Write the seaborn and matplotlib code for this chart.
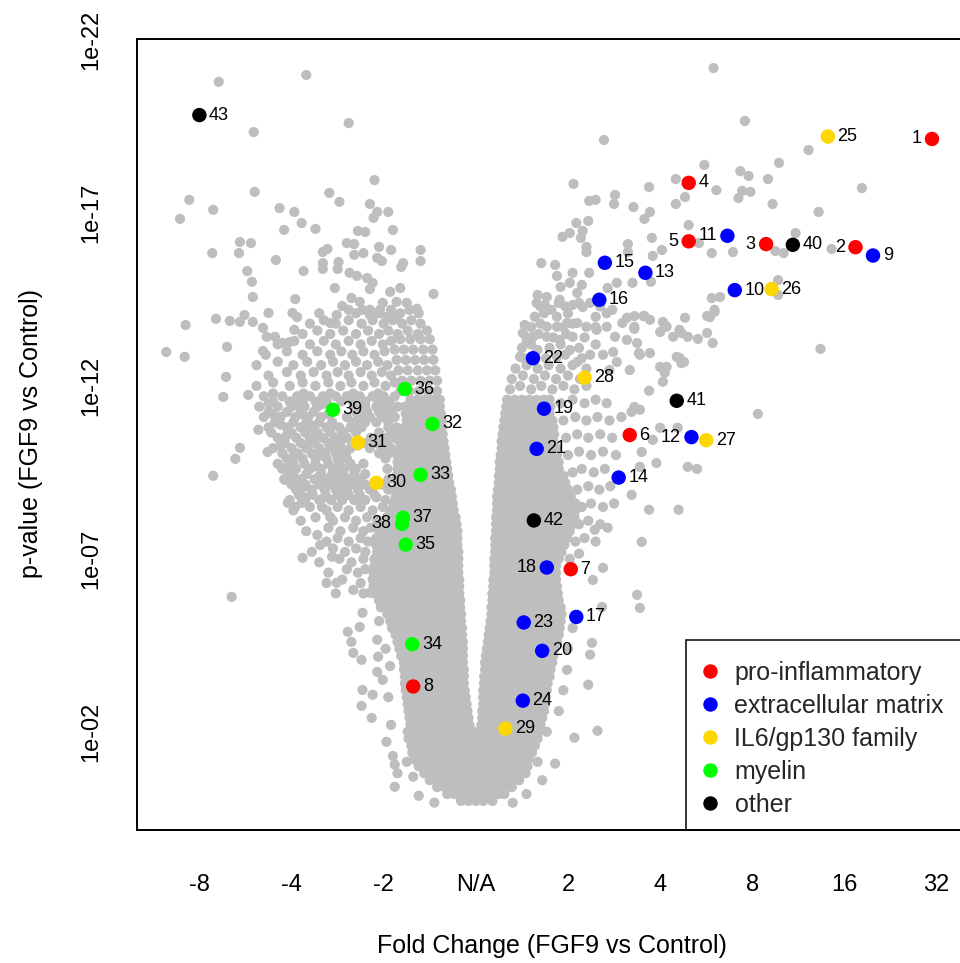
import matplotlib
matplotlib.use("Agg")
import matplotlib.pyplot as plt
import seaborn as sns
import pandas as pd
from matplotlib.lines import Line2D
from matplotlib.patches import Rectangle

# ---------------- axis ticks ----------------
x_ticks = [-3, -2, -1, 0, 1, 2, 3, 4, 5]
x_tick_labels = ["-8", "-4", "-2", "N/A", "2", "4", "8", "16", "32"]
y_ticks = [2, 7, 12, 17, 22]
y_tick_labels = ["1e-02", "1e-07", "1e-12", "1e-17", "1e-22"]

# ---------------- highlighted genes ----------------
groups = ["pro-inflammatory", "extracellular matrix", "IL6/gp130 family", "myelin", "other"]
group_colors = ["#FF0000", "#0000FF", "#FFD700", "#00FF00", "#000000"]

gene_id = list(range(1, 44))
gene_fc = [4.95, 4.12, 3.15, 2.31, 2.31, 1.67, 1.03, -0.68,
           4.31, 2.81, 2.73, 2.34, 1.84, 1.55, 1.40, 1.34, 1.09, 0.77, 0.74, 0.72,
           0.66, 0.62, 0.52, 0.51,
           3.82, 3.21, 2.50, 1.18, 0.32, -1.08, -1.28,
           -0.47, -0.60, -0.69, -0.76, -0.77, -0.79, -0.80, -1.55,
           3.44, 2.18, 0.63, -3.00]
gene_p = [19.14, 16.01, 16.10, 17.87, 16.18, 10.58, 6.70, 3.31,
          15.77, 14.77, 16.34, 10.52, 15.27, 9.35, 15.56, 14.49, 5.32, 6.75, 11.34, 4.34,
          10.18, 12.80, 5.16, 2.90,
          19.21, 14.80, 10.43, 12.24, 2.09, 9.20, 10.36,
          10.90, 9.43, 4.53, 7.41, 11.91, 8.19, 8.01, 11.31,
          16.08, 11.57, 8.11, 19.83]
gene_group = [0] * 8 + [1] * 16 + [2] * 7 + [3] * 8 + [4] * 4
label_left = [1, 2, 3, 5, 11, 12, 18, 38]

# ---------------- background genes (grey cloud) ----------------
# dense core, read row by row (-log10 p, list of signed log2 fold changes)
core_rows = [
    (0.0, [-0.16, -0.08, 0.00, 0.08, 0.18]),
    (0.2, [-0.31, -0.23, -0.15, -0.07, 0.01, 0.09, 0.17, 0.25, 0.31]),
    (0.4, [-0.42, -0.34, -0.26, -0.18, -0.10, -0.02, 0.06, 0.14, 0.22, 0.30, 0.39]),
    (0.6, [-0.50, -0.42, -0.34, -0.26, -0.18, -0.10, -0.02, 0.06, 0.14, 0.22, 0.30, 0.38, 0.47]),
    (0.8, [-0.56, -0.48, -0.40, -0.32, -0.24, -0.16, -0.08, 0.00, 0.08, 0.16, 0.24, 0.32, 0.40, 0.48, 0.54]),
    (1.0, [-0.62, -0.54, -0.46, -0.38, -0.30, -0.22, -0.14, -0.06, 0.02, 0.10, 0.18, 0.26, 0.34, 0.42, 0.50, 0.56]),
    (1.2, [-0.67, -0.59, -0.51, -0.43, -0.35, -0.27, -0.19, -0.11, -0.03, 0.05, 0.13, 0.21, 0.29, 0.37, 0.45, 0.52, 0.57]),
    (1.4, [-0.69, -0.61, -0.53, -0.45, -0.37, -0.29, -0.21, -0.13, -0.05, 0.03, 0.11, 0.19, 0.27, 0.35, 0.43, 0.52, 0.61]),
    (1.6, [-0.70, -0.62, -0.54, -0.46, -0.38, -0.30, -0.22, -0.14, -0.06, 0.02, 0.10, 0.18, 0.26, 0.34, 0.42, 0.50, 0.58, 0.64]),
    (1.8, [-0.73, -0.65, -0.57, -0.49, -0.41, -0.33, -0.25, -0.17, -0.09, -0.01, 0.07, 0.15, 0.23, 0.31, 0.39, 0.47, 0.55, 0.62, 0.67]),
    (2.0, [-0.74, -0.66, -0.58, -0.50, -0.42, -0.34, -0.26, -0.18, -0.10, -0.02, 0.06, 0.14, 0.22, 0.30, 0.38, 0.46, 0.54, 0.62, 0.68]),
    (2.2, [-0.71, -0.63, -0.55, -0.47, -0.39, -0.31, -0.23, -0.15, -0.07, 0.06, 0.14, 0.22, 0.30, 0.38, 0.46, 0.54, 0.62, 0.70]),
    (2.4, [-0.72, -0.64, -0.56, -0.48, -0.40, -0.32, -0.24, -0.16, -0.08, 0.07, 0.15, 0.23, 0.31, 0.39, 0.47, 0.55, 0.63, 0.72]),
    (2.6, [-0.73, -0.65, -0.57, -0.49, -0.41, -0.33, -0.25, -0.17, -0.09, 0.07, 0.15, 0.23, 0.31, 0.39, 0.47, 0.55, 0.63, 0.71, 0.74]),
    (2.8, [-0.74, -0.66, -0.58, -0.50, -0.42, -0.34, -0.26, -0.18, -0.10, 0.08, 0.16, 0.24, 0.32, 0.40, 0.48, 0.56, 0.64, 0.72, 0.75]),
    (3.0, [-0.75, -0.67, -0.59, -0.51, -0.43, -0.35, -0.27, -0.19, -0.11, 0.08, 0.16, 0.24, 0.32, 0.40, 0.48, 0.56, 0.64, 0.72, 0.76]),
    (3.2, [-0.76, -0.68, -0.60, -0.52, -0.44, -0.36, -0.28, -0.20, -0.12, 0.08, 0.16, 0.24, 0.32, 0.40, 0.48, 0.56, 0.64, 0.72, 0.77]),
    (3.4, [-0.77, -0.69, -0.61, -0.53, -0.45, -0.37, -0.29, -0.21, -0.13, 0.09, 0.17, 0.25, 0.33, 0.41, 0.49, 0.57, 0.65, 0.73, 0.78]),
    (3.6, [-0.77, -0.69, -0.61, -0.53, -0.45, -0.37, -0.29, -0.21, -0.13, 0.09, 0.17, 0.25, 0.33, 0.41, 0.49, 0.57, 0.65, 0.73, 0.80]),
    (3.8, [-0.78, -0.69, -0.61, -0.53, -0.45, -0.37, -0.29, -0.21, -0.13, 0.10, 0.18, 0.26, 0.34, 0.42, 0.50, 0.58, 0.66, 0.74, 0.81]),
    (4.0, [-0.78, -0.70, -0.62, -0.54, -0.46, -0.38, -0.30, -0.22, -0.14, 0.10, 0.18, 0.26, 0.34, 0.42, 0.50, 0.58, 0.66, 0.74, 0.83]),
    (4.2, [-0.81, -0.78, -0.70, -0.62, -0.54, -0.46, -0.38, -0.30, -0.22, -0.14, 0.11, 0.19, 0.27, 0.35, 0.43, 0.51, 0.59, 0.67, 0.75, 0.84]),
    (4.4, [-0.83, -0.78, -0.70, -0.62, -0.54, -0.46, -0.38, -0.30, -0.22, -0.14, 0.12, 0.20, 0.28, 0.36, 0.44, 0.52, 0.60, 0.68, 0.76, 0.85]),
    (4.6, [-0.85, -0.78, -0.70, -0.62, -0.54, -0.46, -0.38, -0.30, -0.22, -0.14, 0.13, 0.21, 0.29, 0.37, 0.45, 0.53, 0.61, 0.69, 0.77, 0.85, 0.88]),
    (4.8, [-0.87, -0.79, -0.71, -0.63, -0.55, -0.47, -0.39, -0.31, -0.23, -0.15, 0.14, 0.22, 0.30, 0.38, 0.46, 0.54, 0.62, 0.70, 0.78, 0.86, 0.90]),
    (5.0, [-0.91, -0.87, -0.79, -0.71, -0.63, -0.55, -0.47, -0.39, -0.31, -0.23, -0.15, 0.15, 0.23, 0.31, 0.39, 0.47, 0.55, 0.63, 0.71, 0.79, 0.87, 0.91]),
    (5.2, [-0.93, -0.88, -0.80, -0.72, -0.64, -0.56, -0.48, -0.40, -0.32, -0.24, -0.16, 0.16, 0.24, 0.32, 0.40, 0.48, 0.56, 0.64, 0.72, 0.80, 0.88, 0.92]),
    (5.4, [-0.96, -0.88, -0.80, -0.72, -0.64, -0.56, -0.48, -0.40, -0.32, -0.24, -0.16, 0.17, 0.25, 0.33, 0.41, 0.49, 0.57, 0.65, 0.73, 0.81, 0.89, 0.93]),
    (5.6, [-1.03, -0.97, -0.89, -0.81, -0.73, -0.65, -0.57, -0.49, -0.41, -0.33, -0.25, -0.17, 0.17, 0.25, 0.33, 0.41, 0.49, 0.57, 0.65, 0.73, 0.81, 0.89, 0.92]),
    (5.8, [-1.05, -0.97, -0.89, -0.81, -0.73, -0.65, -0.57, -0.49, -0.41, -0.33, -0.25, -0.17, 0.18, 0.26, 0.34, 0.42, 0.50, 0.58, 0.66, 0.74, 0.82, 0.90]),
    (6.0, [-1.10, -1.06, -0.98, -0.90, -0.82, -0.74, -0.66, -0.58, -0.50, -0.42, -0.34, -0.26, -0.18, 0.18, 0.26, 0.34, 0.42, 0.50, 0.58, 0.66, 0.74, 0.82, 0.89]),
    (6.2, [-1.11, -1.06, -0.98, -0.90, -0.82, -0.74, -0.66, -0.58, -0.50, -0.42, -0.34, -0.26, -0.18, 0.19, 0.27, 0.35, 0.43, 0.51, 0.59, 0.67, 0.75, 0.83, 0.88]),
    (6.4, [-1.12, -1.06, -0.98, -0.90, -0.82, -0.74, -0.66, -0.58, -0.50, -0.42, -0.34, -0.26, -0.18, 0.19, 0.27, 0.35, 0.43, 0.51, 0.59, 0.67, 0.75, 0.83, 0.87]),
    (6.6, [-1.11, -1.07, -0.99, -0.91, -0.83, -0.75, -0.67, -0.59, -0.51, -0.43, -0.35, -0.27, -0.19, 0.20, 0.28, 0.36, 0.44, 0.52, 0.60, 0.68, 0.76, 0.84, 0.87]),
    (6.8, [-1.10, -1.07, -0.99, -0.91, -0.83, -0.75, -0.67, -0.59, -0.51, -0.43, -0.35, -0.27, -0.19, 0.20, 0.28, 0.36, 0.44, 0.52, 0.60, 0.68, 0.76, 0.84, 0.87]),
    (7.0, [-1.10, -1.07, -0.99, -0.91, -0.83, -0.75, -0.67, -0.59, -0.51, -0.43, -0.35, -0.27, -0.19, 0.20, 0.28, 0.36, 0.44, 0.52, 0.60, 0.68, 0.76, 0.84, 0.90]),
    (7.2, [-1.07, -0.99, -0.91, -0.83, -0.75, -0.67, -0.59, -0.51, -0.43, -0.35, -0.27, -0.19, 0.21, 0.29, 0.37, 0.45, 0.53, 0.61, 0.69, 0.77, 0.85, 0.93]),
    (7.4, [-1.08, -1.00, -0.92, -0.84, -0.76, -0.68, -0.60, -0.52, -0.44, -0.36, -0.28, -0.20, 0.21, 0.29, 0.37, 0.45, 0.53, 0.61, 0.69, 0.77, 0.85, 0.93, 0.96]),
    (7.6, [-1.08, -1.00, -0.92, -0.84, -0.76, -0.68, -0.60, -0.52, -0.44, -0.36, -0.28, -0.20, 0.21, 0.29, 0.37, 0.45, 0.53, 0.61, 0.69, 0.77, 0.85, 0.93, 0.99]),
    (7.8, [-1.05, -1.00, -0.92, -0.84, -0.76, -0.68, -0.60, -0.52, -0.44, -0.36, -0.28, -0.20, 0.22, 0.30, 0.38, 0.46, 0.54, 0.62, 0.70, 0.78, 0.86, 0.94, 1.02]),
    (8.0, [-1.00, -0.93, -0.85, -0.77, -0.69, -0.61, -0.53, -0.45, -0.37, -0.29, -0.21, 0.22, 0.30, 0.38, 0.46, 0.54, 0.62, 0.70, 0.78, 0.86, 0.94, 1.02, 1.05]),
    (8.2, [-0.97, -0.94, -0.86, -0.78, -0.70, -0.62, -0.54, -0.46, -0.38, -0.30, -0.22, 0.22, 0.30, 0.38, 0.46, 0.54, 0.62, 0.70, 0.78, 0.86, 0.94, 1.02, 1.07]),
    (8.4, [-0.93, -0.88, -0.80, -0.72, -0.64, -0.56, -0.48, -0.40, -0.32, -0.24, 0.23, 0.31, 0.39, 0.47, 0.55, 0.63, 0.71, 0.79, 0.87, 0.95, 1.03, 1.08]),
    (8.6, [-0.89, -0.81, -0.73, -0.65, -0.57, -0.49, -0.41, -0.33, -0.25, 0.23, 0.31, 0.39, 0.47, 0.55, 0.63, 0.71, 0.79, 0.87, 0.95, 1.03, 1.08]),
    (8.8, [-0.87, -0.82, -0.74, -0.66, -0.58, -0.50, -0.42, -0.34, -0.26, 0.23, 0.31, 0.39, 0.47, 0.55, 0.63, 0.71, 0.79, 0.87, 0.95, 1.03]),
    (9.0, [-0.87, -0.83, -0.75, -0.67, -0.59, -0.51, -0.43, -0.35, -0.27, 0.24, 0.32, 0.40, 0.48, 0.56, 0.64, 0.72, 0.80, 0.88, 0.96, 1.00]),
    (9.2, [-0.85, -0.77, -0.69, -0.61, -0.53, -0.45, -0.37, -0.29, 0.25, 0.33, 0.41, 0.49, 0.57, 0.65, 0.73, 0.81, 0.89, 0.97]),
    (9.4, [-0.86, -0.78, -0.70, -0.62, -0.54, -0.46, -0.38, -0.30, 0.25, 0.33, 0.41, 0.49, 0.57, 0.65, 0.73, 0.81, 0.89, 0.95]),
    (9.6, [-0.85, -0.79, -0.71, -0.63, -0.55, -0.47, -0.39, -0.31, 0.26, 0.34, 0.42, 0.50, 0.58, 0.66, 0.74, 0.82, 0.90]),
    (9.8, [-0.85, -0.80, -0.72, -0.64, -0.56, -0.48, -0.40, -0.32, 0.26, 0.34, 0.42, 0.50, 0.58, 0.66, 0.74, 0.82, 0.90]),
    (10.0, [-0.85, -0.81, -0.73, -0.65, -0.57, -0.49, -0.41, -0.33, 0.27, 0.35, 0.43, 0.51, 0.59, 0.67, 0.75, 0.83, 0.88]),
    (10.2, [-0.82, -0.74, -0.66, -0.58, -0.50, -0.42, -0.34, 0.28, 0.36, 0.44, 0.52, 0.60, 0.68, 0.76, 0.84, 0.87]),
    (10.4, [-0.83, -0.75, -0.67, -0.59, -0.51, -0.43, -0.35, 0.28, 0.36, 0.44, 0.52, 0.60, 0.68, 0.76, 0.84]),
    (10.6, [-0.81, -0.76, -0.68, -0.60, -0.52, -0.44, -0.36, 0.29, 0.37, 0.45, 0.53, 0.61, 0.69, 0.77, 0.85]),
    (10.8, [-0.77, -0.69, -0.61, -0.53, -0.45, -0.37, 0.30, 0.38, 0.46, 0.54, 0.62, 0.70, 0.78, 0.84]),
    (11.0, [-0.75, -0.69, -0.61, -0.53, -0.45, -0.37, 0.31, 0.39, 0.47, 0.55, 0.63, 0.71, 0.79, 0.83]),
    (11.2, [-0.76, -0.70, -0.62, -0.54, -0.46, -0.38, 0.32, 0.40, 0.48, 0.56, 0.64, 0.72, 0.80]),
    (11.4, [-0.77, -0.71, -0.63, -0.55, -0.47, -0.39, 0.33, 0.41, 0.49, 0.57, 0.65, 0.73, 0.81]),
    (11.6, [-0.71, -0.63, -0.55, -0.47, -0.39, 0.34, 0.42, 0.50, 0.58, 0.66, 0.74, 0.80]),
]

# looser parts of the two arms
semi_rows = [
    (6.0, [-1.52, -1.22]), (6.1, [-1.33]),
    (6.3, [-1.62, -1.25]), (6.4, [-1.45]),
    (6.6, [-1.60, -1.28]), (6.7, [-1.40, -1.20]),
    (6.9, [-1.70, -1.35]), (7.0, [-1.48, -1.22]),
    (7.2, [-1.78, -1.42, -1.20]), (7.3, [-1.55, -1.30]),
    (7.5, [-1.62, -1.38, -1.17]), (7.6, [-1.50, -1.25]),
    (7.8, [-1.84, -1.47, -1.22]), (7.9, [-1.60, -1.33, -1.14]),
    (8.1, [-1.90, -1.55, -1.30, -1.07]), (8.2, [-1.74, -1.42, -1.18]),
    (8.4, [-1.98, -1.62, -1.38, -1.12]), (8.5, [-1.80, -1.50, -1.25, -1.01]),
    (8.7, [-2.02, -1.85, -1.70, -1.57, -1.45, -1.32, -1.20, -0.98]),
    (8.78, [-1.85, -1.64, -1.44, -1.26, -1.08]),
    (8.85, [-1.92, -1.77, -1.63, -1.50, -1.38, -1.26, -1.10]),
    (9.0, [-1.95, -1.78, -1.64, -1.52, -1.40, -1.28, -1.15, -0.95]),
    (9.08, [-1.87, -1.64, -1.46, -1.27]),
    (9.15, [-2.00, -1.85, -1.70, -1.57, -1.45, -1.33, -1.20, -1.02]),
    (9.3, [-2.08, -1.90, -1.75, -1.62, -1.50, -1.38, -1.26, -0.95]),
    (9.38, [-1.98, -1.70, -1.50, -1.32]),
    (9.45, [-2.02, -1.84, -1.68, -1.56, -1.44, -1.32, -1.20]),
    (9.6, [-2.10, -1.95, -1.80, -1.68, -1.55, -1.43, -1.30, -0.96]),
    (9.68, [-2.02, -1.74, -1.50, -1.37]),
    (9.75, [-2.15, -1.98, -1.86, -1.74, -1.60, -1.48, -1.36, -1.22]),
    (9.9, [-2.05, -1.88, -1.74, -1.62, -1.50, -1.40, -0.98]),
    (9.98, [-1.97, -1.70, -1.46]),
    (10.05, [-2.10, -1.93, -1.78, -1.64, -1.52, -1.41, -1.05, -0.94]),
    (10.2, [-2.20, -2.00, -1.84, -1.70, -1.58, -1.46, -1.36, -1.15, -1.02, -0.92]),
    (10.28, [-2.12, -1.82, -1.54, -1.28]),
    (10.35, [-2.08, -1.90, -1.75, -1.60, -1.47, -1.34, -1.22, -1.08, -0.96]),
    (10.5, [-2.15, -1.95, -1.80, -1.66, -1.52, -1.40, -1.14, -1.00, -0.90]),
    (10.58, [-2.05, -1.74, -1.46]),
    (10.65, [-2.22, -2.00, -1.85, -1.72, -1.58, -1.44, -1.30, -1.05, -0.92]),
    (10.8, [-2.25, -2.05, -1.90, -1.76, -1.62, -1.48, -1.36, -1.24, -0.95, -0.86]),
    (10.88, [-2.12, -1.80, -1.55, -1.30]),
    (10.95, [-2.18, -1.98, -1.84, -1.70, -1.56, -1.34, -1.20, -1.08, -0.95]),
    (11.1, [-2.30, -2.12, -1.96, -1.82, -1.68, -1.40, -1.28, -1.15, -1.02, -0.88]),
    (11.18, [-2.20, -1.88, -1.60, -1.22, -0.98]),
    (11.25, [-2.25, -2.05, -1.90, -1.76, -1.30, -1.18, -1.05, -0.92]),
    (11.4, [-2.35, -2.15, -2.00, -1.86, -1.72, -1.32, -1.20, -1.08, -0.96, -0.85]),
    (11.48, [-2.25, -1.94, -1.66, -1.00]),
    (11.55, [-2.20, -2.02, -1.88, -1.74, -1.62, -1.46, -1.34, -1.20, -1.06, -0.94]),
    (11.7, [-2.30, -2.10, -1.94, -1.80, -1.66, -1.52, -1.40, -1.26, -1.12, -1.00, -0.88]),
    (11.78, [-2.20, -1.87, -1.58, -1.33, -1.06]),
    (11.85, [-0.82, -0.72, -0.62, -0.52, -0.42]),
    (12.0, [-2.38, -2.02, -1.74, -1.47, -1.22, -0.98]),
    (12.1, [-2.20, -1.88, -1.60, -1.35, -1.10, -0.88]),
    (12.15, [-0.80, -0.70, -0.60, -0.50, -0.42]),
    (12.3, [-2.25, -1.90, -1.62, -1.38, -1.13, -0.92]),
    (12.4, [-2.05, -1.76, -1.50, -1.25, -1.02]),
    (12.45, [-0.84, -0.74, -0.63, -0.53, -0.44]),
    (12.6, [-2.38, -1.98, -1.68, -1.42, -1.18, -0.96]),
    (12.7, [-2.15, -1.83, -1.55, -1.30, -1.06]),
    (12.75, [-0.86, -0.76, -0.66, -0.56, -0.46]),
    (12.9, [-2.28, -1.88, -1.58, -1.34, -1.10]),
    (13.0, [-2.05, -1.72, -1.46, -1.22, -0.99]),
    (13.05, [-0.88, -0.78, -0.68, -0.57, -0.47]),
    (13.2, [-2.15, -1.80, -1.52, -1.25, -1.01]),
    (13.3, [-1.97, -1.65, -1.38, -1.13, -0.92]),
    (13.35, [-0.82, -0.71, -0.60, -0.50]),
    (13.5, [-1.88, -1.58, -1.30, -1.05, -0.85, -0.63]),
    (13.6, [-1.72, -1.44, -1.17, -0.95, -0.74, -0.53]),
    (13.8, [-1.80, -1.52, -1.24, -1.00, -0.80, -0.60]),
    (13.9, [-1.65, -1.38, -1.12, -0.90, -0.70]),
    (14.1, [-1.70, -1.30, -1.05, -0.82, -0.62]),
    (14.2, [-1.38, -1.15, -0.92, -0.72]),
    (7.0, [1.02]), (7.15, [1.12]),
    (7.5, [1.08, 1.30]), (7.6, [1.18]),
    (8.0, [1.12, 1.35]), (8.1, [1.22]),
    (8.5, [1.15, 1.38]), (8.6, [1.25, 1.50]),
    (9.0, [1.10, 1.34]), (9.1, [1.22, 1.46]),
    (9.5, [1.05, 1.28]), (9.6, [1.15, 1.40]),
    (10.0, [1.00, 1.25, 1.52]), (10.1, [1.12, 1.38]),
    (10.5, [0.98, 1.22, 1.48]), (10.6, [1.10, 1.35]),
    (11.0, [0.95, 1.20, 1.45]), (11.1, [1.08, 1.32, 1.58]),
    (11.5, [0.92, 1.18, 1.42]), (11.6, [1.05, 1.30]),
    (11.9, [0.37, 0.60, 0.83, 1.07]), (12.0, [0.48, 0.71, 0.95, 1.20]),
    (12.2, [0.39, 0.63, 0.87, 1.13]), (12.3, [0.51, 0.75, 1.00]),
    (12.5, [0.43, 0.67, 0.92, 1.20]), (12.6, [0.55, 0.79, 1.05]),
    (12.8, [0.52, 0.76, 1.15]), (12.9, [0.64, 0.97]),
    (13.1, [0.50, 0.80, 1.12]), (13.2, [0.60, 0.92, 1.30]),
    (13.4, [0.55, 0.84, 1.18]), (13.5, [0.68, 0.98]),
    (13.7, [0.60, 0.95, 1.30]), (13.8, [0.70, 1.05]),
    (14.0, [0.64, 0.88, 1.30]), (14.1, [0.74, 1.00, 1.42]),
    (14.3, [0.70, 0.97, 1.35]), (14.4, [0.90, 1.12]),
]

# isolated genes (log2 fold change, -log10 p)
scatter_pts = [
    (-2.79, 20.79), (-1.84, 20.99), (-1.38, 19.60), (-2.41, 19.34), (-1.10, 17.95), (-2.40, 17.61),
    (-3.11, 17.38), (-2.85, 17.09), (-3.21, 16.83), (-1.59, 17.58), (-1.48, 17.32), (-1.15, 17.26),
    (-1.07, 17.03), (-0.95, 17.03), (-1.11, 16.86), (-2.13, 17.14), (-1.97, 17.03), (-1.89, 16.71),
    (-2.08, 16.51), (-1.74, 16.54), (-1.28, 16.48), (-1.20, 16.45), (-0.90, 16.51), (-2.56, 16.16),
    (-2.44, 16.13), (-2.57, 15.84), (-2.86, 15.84), (-2.17, 15.64), (-1.87, 15.32), (-2.48, 15.32),
    (-2.43, 15.01), (-2.42, 14.57), (-1.66, 15.87), (-1.61, 15.96), (-1.66, 15.55), (-1.66, 15.38),
    (-1.49, 15.58), (-1.50, 15.38), (-1.40, 16.13), (-1.32, 16.10), (-1.32, 15.79), (-1.22, 15.84),
    (-1.05, 16.02), (-0.92, 15.93), (-1.07, 15.70), (-1.02, 15.61), (-1.37, 15.27), (-1.29, 15.18),
    (-1.18, 15.12), (-1.12, 14.98), (-1.15, 14.80), (-1.53, 14.83), (-0.81, 15.44), (-0.79, 15.55),
    (-0.60, 15.93), (-0.60, 15.61), (-0.82, 14.83), (-0.93, 14.72), (-0.46, 14.66), (-1.96, 14.51),
    (-1.35, 14.54), (-1.26, 14.43), (-1.01, 14.40), (-0.86, 14.43), (-0.75, 14.40), (-0.64, 14.23),
    (-1.45, 14.31), (-1.51, 14.05), (-1.23, 14.20), (-1.15, 14.05), (-1.04, 14.20), (-0.97, 13.99),
    (-0.86, 13.99), (-1.99, 14.11), (-1.94, 13.99), (-2.25, 14.11), (-2.51, 14.05), (-2.56, 13.85),
    (-2.67, 13.88), (-2.82, 13.94), (-2.42, 13.85), (-3.15, 13.76), (-1.58, 13.82),
    (-3.36, 12.98), (-3.16, 12.84), (-2.70, 13.13), (-2.31, 13.68), (-2.27, 13.42), (-2.18, 13.42),
    (-2.10, 13.24), (-2.02, 13.27), (-2.31, 13.01), (-1.97, 13.62),
    (-2.71, 12.26), (-2.74, 11.68), (-2.47, 11.74), (-2.36, 10.73), (-2.56, 10.21), (-2.61, 9.89),
    (-2.26, 10.09), (-2.85, 9.40), (-2.07, 10.35), (-2.10, 9.63), (-2.07, 9.28), (-1.97, 9.23),
    (-2.04, 8.62), (-1.96, 8.50), (-1.89, 8.62), (-1.88, 7.03), (-1.67, 8.50), (-1.56, 7.06),
    (-1.51, 6.31), (-2.65, 5.90), (-1.72, 7.69), (-1.58, 8.21), (-1.69, 7.40),
    (-1.15, 6.02), (-1.23, 5.44), (-1.39, 4.89), (-1.26, 5.03), (-1.35, 4.60), (-1.07, 4.66),
    (-1.33, 4.28), (-1.24, 4.08), (-1.06, 4.17), (-1.07, 3.73), (-1.01, 3.50), (-1.23, 3.21),
    (-1.12, 3.07), (-1.24, 2.75), (-1.13, 2.40), (-0.97, 1.71), (-0.88, 1.05), (-0.75, 1.13),
    (-0.88, 0.41), (-0.68, 0.70), (-0.92, 2.20), (-0.95, 3.00), (-0.93, 3.90), (-0.98, 4.40),
    (-1.05, 5.20), (-0.90, 1.30), (-0.85, 0.80), (-0.62, 0.15), (-0.45, -0.05),
    (1.75, 5.96), (1.78, 5.58), (1.37, 5.61), (1.26, 4.57), (1.24, 4.23), (0.99, 3.79),
    (1.22, 3.36), (1.07, 1.83), (1.32, 2.03), (0.86, 1.08), (0.67, 1.13), (0.77, 2.00),
    (0.90, 2.60), (0.95, 3.20), (1.00, 4.40), (1.05, 5.00), (0.72, 0.60), (0.55, 0.20), (0.40, -0.05),
    (3.74, 13.07), (3.06, 11.19), (2.21, 12.81), (2.26, 12.69), (2.07, 12.55), (2.05, 12.38),
    (2.03, 12.12), (1.88, 11.86), (1.72, 11.39), (1.78, 11.31), (1.69, 11.25), (2.00, 10.79),
    (2.19, 10.79), (1.92, 10.44), (1.80, 10.09), (1.96, 9.77), (1.78, 9.66), (2.30, 9.66),
    (2.40, 9.60), (1.69, 8.85), (1.88, 8.42), (2.20, 8.42), (1.80, 7.49), (1.43, 7.90),
    (1.29, 7.84), (1.38, 6.74), (1.27, 6.39),
    (2.54, 13.99), (2.59, 14.20), (2.51, 13.53), (2.57, 13.24), (2.27, 13.97), (2.14, 13.42),
    (2.23, 13.53), (2.30, 13.42), (2.41, 13.36), (2.00, 13.56), (2.05, 13.76), (1.89, 13.91),
    (1.72, 13.65), (1.82, 14.02), (1.64, 13.33), (1.75, 13.24), (1.77, 12.95), (1.89, 12.95),
    (1.64, 13.97), (1.51, 13.42),
    (2.58, 21.19), (2.92, 19.66), (1.39, 19.11), (3.61, 18.82), (2.48, 18.39), (3.29, 18.45),
    (2.87, 18.21), (2.96, 18.07), (3.17, 17.98), (2.17, 17.98), (1.06, 17.84), (1.88, 17.75),
    (2.61, 17.66), (4.19, 17.72), (2.89, 17.64), (2.98, 17.61), (2.85, 17.43), (1.51, 17.52),
    (1.23, 17.35), (1.30, 17.38), (1.50, 17.26), (1.71, 17.17), (2.17, 17.26), (2.27, 17.46),
    (3.22, 17.26), (3.72, 17.03), (1.89, 17.03), (1.83, 16.83), (2.31, 16.65), (1.09, 16.71),
    (1.22, 16.77), (1.16, 16.48), (1.02, 16.42), (0.94, 16.31), (1.14, 16.28), (1.20, 16.02),
    (1.20, 15.87), (1.65, 16.10), (1.91, 16.28), (2.42, 16.13), (2.56, 15.84), (2.79, 15.87),
    (2.02, 15.93), (1.92, 15.76), (1.65, 15.87), (3.47, 16.42), (3.25, 15.90), (3.34, 15.84),
    (3.86, 15.96), (0.71, 15.55), (0.86, 15.50), (0.88, 15.18), (1.05, 15.27), (1.23, 15.27),
    (1.70, 14.98), (1.90, 15.01), (2.56, 14.54), (2.59, 14.14), (2.51, 14.02), (3.28, 15.06),
    (3.28, 14.63),
    (1.53, 14.98), (1.43, 14.83), (1.15, 14.92), (1.02, 14.98), (0.92, 14.86), (0.67, 14.63),
    (0.77, 14.57), (0.66, 14.40), (0.75, 14.34), (0.82, 14.20), (0.91, 14.49), (1.10, 14.69),
    (1.05, 14.34), (1.16, 14.28), (1.24, 14.40), (1.48, 14.20), (1.72, 14.02), (1.83, 14.02),
    (1.72, 13.71), (1.59, 13.82), (1.42, 13.71), (1.31, 13.62), (1.20, 13.71), (1.10, 13.82),
    (0.99, 13.82), (0.88, 13.71), (0.77, 13.71), (0.53, 13.76), (0.51, 13.53), (0.62, 13.42),
    (0.77, 13.42), (0.91, 13.33), (1.05, 13.42), (0.55, 13.24), (0.67, 13.04), (0.48, 12.84),
    (0.88, 12.84), (1.02, 13.04), (1.10, 12.69), (1.24, 12.90), (1.38, 12.90), (1.49, 12.98),
    (1.53, 12.69), (1.45, 12.46), (1.67, 12.46), (1.78, 12.90), (2.00, 12.55), (2.18, 12.84),
    (2.23, 12.66), (2.07, 13.71), (2.03, 13.85), (2.21, 13.62), (2.65, 14.57),
]

# ---------------- assemble tables ----------------
bg_fc, bg_p = [], []
for yv, xs in core_rows + semi_rows:
    for xv in xs:
        bg_fc.append(xv)
        bg_p.append(yv)
for xv, yv in scatter_pts:
    bg_fc.append(xv)
    bg_p.append(yv)
bg = pd.DataFrame({"fc": bg_fc, "p": bg_p})

hl = pd.DataFrame({"id": gene_id, "fc": gene_fc, "p": gene_p,
                   "group": [groups[g] for g in gene_group]})

# ---------------- plot ----------------
sns.set_theme(style="white")
plt.rcParams["font.family"] = ["Liberation Sans", "DejaVu Sans"]

W, H = 960, 963
fig = plt.figure(figsize=(W / 100, H / 100), dpi=100)
fig.patch.set_facecolor("white")
ax = fig.add_axes([137 / W, (H - 830) / H, (967 - 137) / W, (830 - 39) / H])
ax.set_facecolor("white")

sns.scatterplot(data=bg, x="fc", y="p", color="#BEBEBE", s=54, linewidth=0,
                edgecolor="none", ax=ax, legend=False, zorder=1)
sns.scatterplot(data=hl, x="fc", y="p", hue="group", hue_order=groups,
                palette=dict(zip(groups, group_colors)), s=108, linewidth=0,
                edgecolor="none", ax=ax, legend=False, zorder=3)

for gid, xv, yv in zip(gene_id, gene_fc, gene_p):
    if gid in label_left:
        ax.annotate(str(gid), (xv, yv), xytext=(-7.5, 0), textcoords="offset points",
                    ha="right", va="center", fontsize=13, color="black", zorder=4)
    else:
        ax.annotate(str(gid), (xv, yv), xytext=(7, 0), textcoords="offset points",
                    ha="left", va="center", fontsize=13, color="black", zorder=4)

ax.set_xlim(-3.677, 5.33)
ax.set_ylim(-0.84, 22.03)
ax.set_xticks(x_ticks)
ax.set_xticklabels(x_tick_labels)
ax.set_yticks(y_ticks)
ax.set_yticklabels(y_tick_labels, rotation=90, va="center")
ax.set_xlabel("")
ax.set_ylabel("")
ax.tick_params(axis="both", direction="out", length=12, width=1.1, color="black",
               labelsize=17, labelcolor="black")
ax.tick_params(axis="x", pad=20)
ax.tick_params(axis="y", pad=13)
for side in ["left", "bottom", "top"]:
    ax.spines[side].set_visible(True)
    ax.spines[side].set_color("black")
    ax.spines[side].set_linewidth(1.4)
ax.spines["right"].set_visible(False)
ax.grid(False)

fig.text(552 / W, 1 - 946 / H, "Fold Change (FGF9 vs Control)", ha="center", va="center",
         fontsize=18, color="black")
fig.text(31 / W, 1 - 433 / H, "p-value (FGF9 vs Control)", ha="center", va="center",
         rotation=90, fontsize=18, color="black")

handles = [Line2D([0], [0], marker="o", linestyle="", markerfacecolor=c,
                  markeredgecolor=c, markersize=9.4) for c in group_colors]
leg = ax.legend(handles, groups, loc="upper left", bbox_to_anchor=(697 / W, 1 - 661 / H),
                bbox_transform=fig.transFigure, frameon=False, fontsize=18,
                handlelength=1.0, handletextpad=0.5, labelspacing=0.36,
                borderpad=0, borderaxespad=0)
fig.add_artist(Rectangle((686 / W, (H - 830) / H), 0.4, (830 - 640) / H,
                         transform=fig.transFigure, fill=False, edgecolor="black",
                         linewidth=1.1, zorder=5))

fig.savefig("out.png", dpi=100, facecolor="white")
